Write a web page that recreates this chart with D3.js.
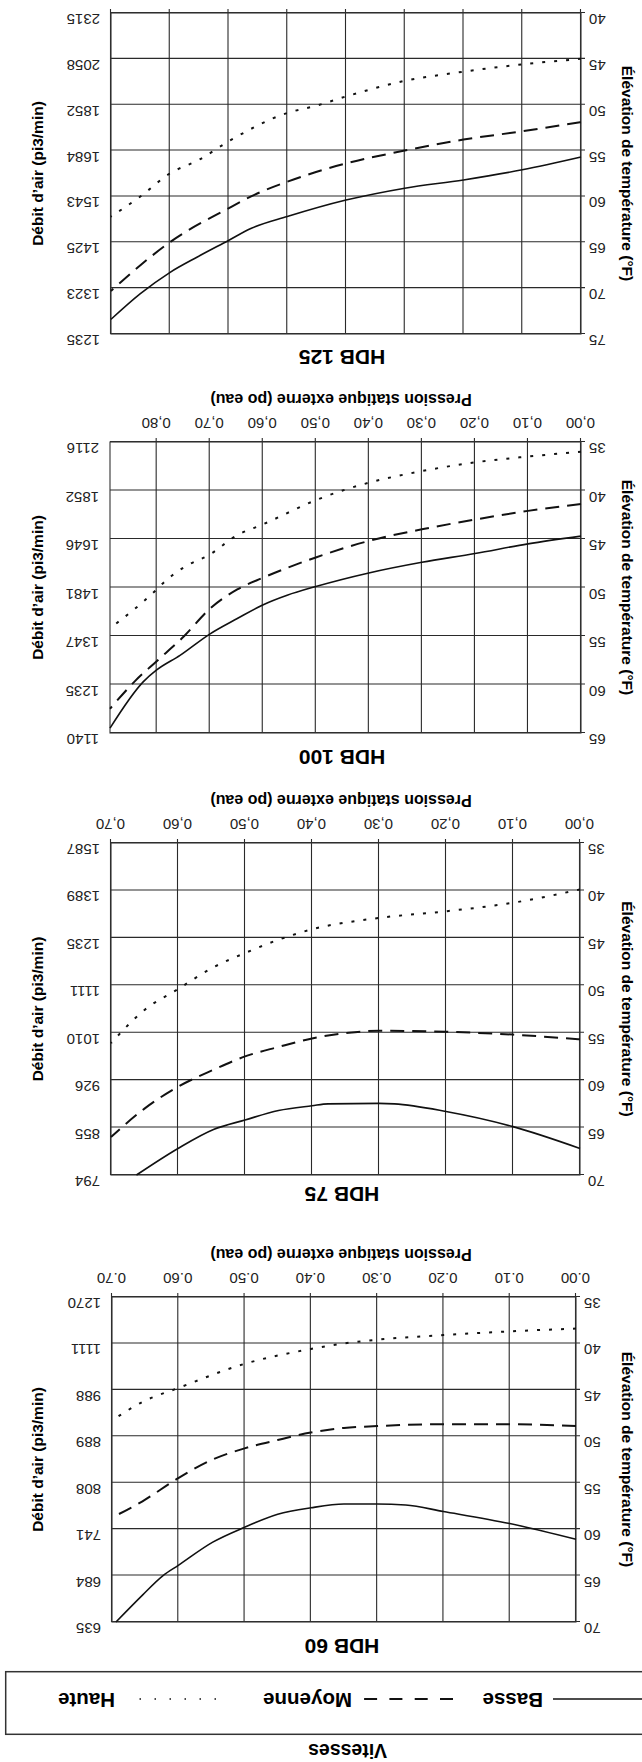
<!DOCTYPE html>
<html>
<head>
<meta charset="utf-8">
<script src="https://cdn.jsdelivr.net/npm/d3@7"></script>
<style>
  body { margin: 0; background: #fff; }
  svg { display: block; font-family: "Liberation Sans", Arial, sans-serif; }
</style>
</head>
<body>
<div id="chart"></div>
<script>
(function() {
  var width = 642, height = 1762;

  // speeds shown in the legend
  var speeds = ["Basse", "Moyenne", "Haute"];

  // pressure ticks (po eau)
  var pressureTicks70 = [0, 0.1, 0.2, 0.3, 0.4, 0.5, 0.6, 0.7];
  var pressureTicks80 = [0, 0.1, 0.2, 0.3, 0.4, 0.5, 0.6, 0.7, 0.8];

  // temperature rise ticks (°F) and matching airflow labels (pi3/min)
  var hdb60Temps = [35, 40, 45, 50, 55, 60, 65, 70];
  var hdb60Airflow = [1270, 1111, 988, 889, 808, 741, 684, 635];
  var hdb75Temps = [35, 40, 45, 50, 55, 60, 65, 70];
  var hdb75Airflow = [1587, 1389, 1235, 1111, 1010, 926, 855, 794];
  var hdb100Temps = [35, 40, 45, 50, 55, 60, 65];
  var hdb100Airflow = [2116, 1852, 1646, 1481, 1347, 1235, 1140];
  var hdb125Temps = [40, 45, 50, 55, 60, 65, 70, 75];
  var hdb125Airflow = [2315, 2058, 1852, 1684, 1543, 1425, 1323, 1235];

  // curves: [pression, elevation de temperature]
  var hdb60Basse = [[0, 61.1], [0.1, 59.4], [0.2, 58.1], [0.257, 57.4], [0.3, 57.3], [0.35, 57.3], [0.4, 57.7],
    [0.45, 58.4], [0.5, 59.8], [0.548, 61.4], [0.6, 63.9], [0.623, 65.0], [0.654, 67.1], [0.694, 70.0]];
  var hdb60Moyenne = [[0, 48.9], [0.1, 48.7], [0.2, 48.7], [0.3, 48.9], [0.35, 49.1], [0.4, 49.6], [0.45, 50.4],
    [0.5, 51.3], [0.548, 52.5], [0.6, 54.5], [0.654, 57.0], [0.7, 58.75]];
  var hdb60Haute = [[0, 38.4], [0.1, 38.7], [0.2, 39.1], [0.3, 39.6], [0.35, 40.0], [0.4, 40.6], [0.5, 42.2],
    [0.6, 44.8], [0.654, 46.3], [0.7, 48.3]];

  var hdb75Basse = [[0, 67.2], [0.1, 64.9], [0.2, 63.3], [0.277, 62.5], [0.3, 62.45], [0.376, 62.5], [0.4, 62.7],
    [0.45, 63.2], [0.5, 64.2], [0.547, 65.2], [0.6, 67.2], [0.662, 70.0]];
  var hdb75Moyenne = [[0, 55.7], [0.1, 55.2], [0.2, 54.9], [0.3, 54.8], [0.345, 55.0], [0.4, 55.6], [0.45, 56.5],
    [0.5, 57.5], [0.547, 58.9], [0.6, 60.7], [0.65, 63.0], [0.7, 66.0]];
  var hdb75Haute = [[0, 39.9], [0.1, 41.3], [0.2, 42.2], [0.3, 42.9], [0.4, 44.1], [0.45, 45.2], [0.5, 46.6],
    [0.547, 48.1], [0.6, 50.4], [0.65, 52.6], [0.7, 56.1]];

  var hdb100Basse = [[0, 44.7], [0.1, 45.5], [0.2, 46.5], [0.3, 47.4], [0.4, 48.5], [0.5, 49.9], [0.554, 50.8],
    [0.6, 51.8], [0.648, 53.2], [0.7, 54.8], [0.756, 57.0], [0.8, 58.5], [0.825, 59.7], [0.888, 64.5]];
  var hdb100Moyenne = [[0, 41.4], [0.1, 42.1], [0.2, 43.0], [0.3, 44.0], [0.4, 45.2], [0.5, 46.9], [0.6, 49.0],
    [0.648, 50.2], [0.7, 52.2], [0.748, 55.0], [0.8, 57.6], [0.84, 59.6], [0.888, 62.5]];
  var hdb100Haute = [[0, 36.0], [0.1, 36.5], [0.2, 37.1], [0.3, 38.0], [0.4, 39.2], [0.444, 39.9], [0.5, 41.0],
    [0.6, 43.5], [0.648, 44.6], [0.7, 46.6], [0.748, 47.9], [0.787, 49.5], [0.8, 50.2], [0.888, 54.2]];

  var hdb125Basse = [[0, 55.7], [0.1, 57.1], [0.2, 58.2], [0.3, 59.1], [0.4, 60.4], [0.5, 62.2], [0.562, 63.5],
    [0.6, 64.8], [0.653, 66.6], [0.7, 68.3], [0.75, 70.6], [0.8, 73.4]];
  var hdb125Moyenne = [[0, 51.9], [0.1, 52.9], [0.2, 53.8], [0.3, 55.0], [0.4, 56.4], [0.5, 58.4], [0.555, 59.8],
    [0.6, 61.3], [0.7, 65.0], [0.75, 67.5], [0.8, 70.3]];
  var hdb125Haute = [[0, 45.0], [0.1, 45.6], [0.2, 46.4], [0.3, 47.4], [0.4, 49.1], [0.45, 50.1], [0.5, 50.9],
    [0.6, 54.0], [0.65, 56.0], [0.7, 57.5], [0.75, 60.0], [0.8, 62.2]];

  // layout of the four panels (drawn upright, whole page turned over at the end)
  var charts = [
    { title: "HDB 60", top: 140, bottom: 465, left: 66, right: 530, titleY: 123, xMax: 0.70, sep: ".",
      ticks: pressureTicks70, temps: hdb60Temps, airflow: hdb60Airflow, series: [hdb60Basse, hdb60Moyenne, hdb60Haute] },
    { title: "HDB 75", top: 587, bottom: 919, left: 62, right: 531, titleY: 575, xMax: 0.70, sep: ",",
      ticks: pressureTicks70, temps: hdb75Temps, airflow: hdb75Airflow, series: [hdb75Basse, hdb75Moyenne, hdb75Haute] },
    { title: "HDB 100", top: 1029, bottom: 1320, left: 61, right: 532, titleY: 1012, xMax: 0.888, sep: ",",
      ticks: pressureTicks80, temps: hdb100Temps, airflow: hdb100Airflow, series: [hdb100Basse, hdb100Moyenne, hdb100Haute] },
    { title: "HDB 125", top: 1428, bottom: 1749, left: 61, right: 531, titleY: 1412, xMax: 0.80, sep: ",",
      ticks: pressureTicks80, temps: hdb125Temps, airflow: hdb125Airflow, series: [hdb125Basse, hdb125Moyenne, hdb125Haute] }
  ];

  var styles = [
    { dash: null, width: 1.6 },
    { dash: "14,8", width: 2 },
    { dash: "3,9", width: 2 }
  ];

  var svg = d3.select("#chart")
    .append("svg")
    .attr("width", width)
    .attr("height", height)
    .style("overflow", "hidden");

  // the reference page is printed upside down
  var root = svg.append("g")
    .attr("transform", "rotate(180," + (width / 2) + "," + (height / 2) + ")");

  // legend
  root.append("text")
    .attr("x", 294.5).attr("y", 18)
    .attr("text-anchor", "middle")
    .attr("font-size", 19.5).attr("font-weight", "bold")
    .text("Vitesses");

  root.append("rect")
    .attr("x", -5).attr("y", 27.7)
    .attr("width", 641.3).attr("height", 62.6)
    .attr("fill", "none").attr("stroke", "#333").attr("stroke-width", 1.5);

  var legendX = [[0, 89, 99], [189, 280, 290], [426, 505, 527]];
  var legendDash = [null, "13,12.3", "1.5,13.5"];
  speeds.forEach(function(s, i) {
    root.append("line")
      .attr("x1", legendX[i][0]).attr("x2", legendX[i][1])
      .attr("y1", 63).attr("y2", 63)
      .attr("stroke", "#111")
      .attr("stroke-width", i == 1 ? 2 : 1.5)
      .attr("stroke-dasharray", legendDash[i]);
    root.append("text")
      .attr("x", legendX[i][2]).attr("y", 69)
      .attr("font-size", 20.5).attr("font-weight", "bold")
      .text(s);
  });

  charts.forEach(function(c) {
    var g = root.append("g");

    var xPositionScale = d3.scaleLinear()
      .domain([0, c.xMax])
      .range([c.left, c.right]);

    var yPositionScale = d3.scaleLinear()
      .domain(d3.extent(c.temps))
      .range([c.bottom, c.top]);

    var fmt = d3.format(".2f");

    // pressure axis + vertical grid
    var xAxis = d3.axisBottom(xPositionScale)
      .tickValues(c.ticks)
      .tickSize(-(c.bottom - c.top + 4))
      .tickPadding(9)
      .tickFormat(function(d) { return fmt(d).replace(".", c.sep); });
    g.append("g")
      .attr("class", "axis x-axis")
      .attr("transform", "translate(0," + (c.bottom + 4) + ")")
      .call(xAxis);

    // temperature axis + horizontal grid
    var yAxis = d3.axisLeft(yPositionScale)
      .tickValues(c.temps)
      .tickSize(-(c.right - c.left + 4))
      .tickPadding(4);
    g.append("g")
      .attr("class", "axis y-axis")
      .attr("transform", "translate(" + (c.left - 4) + ",0)")
      .call(yAxis);

    // airflow labels on the other side
    var airAxis = d3.axisRight(yPositionScale)
      .tickValues(c.temps)
      .tickSize(0)
      .tickPadding(11)
      .tickFormat(function(d) { return c.airflow[c.temps.indexOf(d)]; });
    g.append("g")
      .attr("class", "axis air-axis")
      .attr("transform", "translate(" + c.right + ",0)")
      .call(airAxis);

    g.selectAll(".domain").remove();
    g.selectAll(".tick line").attr("stroke", "#2a2a2a").attr("stroke-width", 1.1);
    g.selectAll(".tick text")
      .attr("font-family", "Liberation Sans, Arial, sans-serif")
      .attr("font-size", 15)
      .attr("fill", "#222");
    g.selectAll(".y-axis .tick text, .air-axis .tick text").attr("dy", "-0.1em");

    g.append("rect")
      .attr("x", c.left).attr("y", c.top)
      .attr("width", c.right - c.left).attr("height", c.bottom - c.top)
      .attr("fill", "none").attr("stroke", "#333").attr("stroke-width", 1.1);

    var line = d3.line()
      .x(function(d) { return xPositionScale(d[0]); })
      .y(function(d) { return yPositionScale(d[1]); })
      .curve(d3.curveMonotoneX);

    c.series.forEach(function(s, i) {
      g.append("path")
        .datum(s)
        .attr("d", line)
        .attr("fill", "none")
        .attr("stroke", "#111")
        .attr("stroke-width", styles[i].width)
        .attr("stroke-dasharray", styles[i].dash);
    });

    g.append("text")
      .attr("x", 300).attr("y", c.titleY)
      .attr("text-anchor", "middle")
      .attr("font-size", 21).attr("font-weight", "bold")
      .text(c.title);

    g.append("text")
      .attr("x", 301).attr("y", c.bottom + 48)
      .attr("text-anchor", "middle")
      .attr("font-size", 16).attr("font-weight", "bold")
      .text("Pression statique externe (po eau)");

    var mid = (c.top + c.bottom) / 2;
    g.append("text")
      .attr("transform", "translate(20," + mid + ") rotate(-90)")
      .attr("text-anchor", "middle")
      .attr("font-size", 15.5).attr("font-weight", "bold")
      .text("Élévation de température (°F)");

    g.append("text")
      .attr("transform", "translate(599," + mid + ") rotate(90)")
      .attr("text-anchor", "middle")
      .attr("font-size", 15.5).attr("font-weight", "bold")
      .text("Débit d’air (pi3/min)");
  });
})();
</script>
</body>
</html>
